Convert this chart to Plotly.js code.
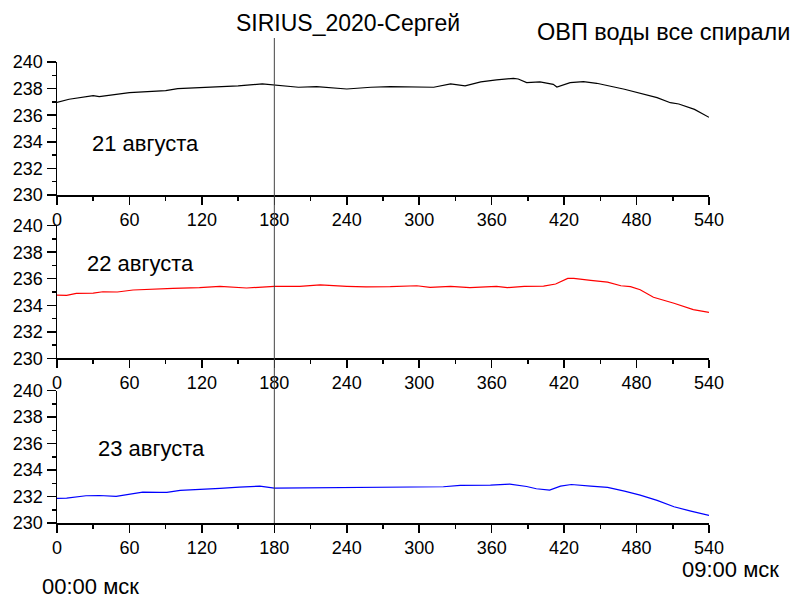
<!DOCTYPE html>
<html>
<head>
<meta charset="utf-8">
<script src="https://cdn.plot.ly/plotly-3.0.1.min.js"></script>
<style>html,body{margin:0;padding:0;background:#fff;}#chart{width:791px;height:601px;}</style>
</head>
<body>
<div id="chart"></div>
<script>
// ---- data (minutes from 00:00 msk, ORP values) ----
var xTicks = [0, 60, 120, 180, 240, 300, 360, 420, 480, 540];
var yTicks = [230, 232, 234, 236, 238, 240];
var markerMinute = 180;

var t21 = [0,10,30,35,60,90,100,120,150,170,180,200,215,240,260,276,312,326,338,351,364,378,382,389,400,411,414,425,436,447,470,486,497,508,515,528,540];
var v21 = [236.97,237.2,237.47,237.4,237.7,237.85,238.0,238.07,238.2,238.35,238.25,238.1,238.15,237.97,238.1,238.15,238.1,238.35,238.2,238.5,238.65,238.77,238.72,238.45,238.5,238.32,238.12,238.45,238.52,238.4,237.95,237.6,237.32,236.94,236.84,236.44,235.84];

var t22 = [0,8,16,30,38,50,63,77,96,118,135,157,180,201,218,240,256,276,298,309,326,342,364,373,387,403,413,423,428,442,456,467,475,483,494,511,527,540];
var v22 = [234.77,234.75,234.9,234.92,235.02,235.0,235.15,235.22,235.28,235.33,235.43,235.3,235.43,235.43,235.53,235.43,235.38,235.4,235.47,235.35,235.43,235.33,235.43,235.33,235.43,235.45,235.6,236.03,236.03,235.88,235.75,235.47,235.4,235.17,234.6,234.15,233.67,233.47];

var t23 = [0,8,24,35,49,63,71,85,91,102,118,135,151,168,180,201,229,256,284,303,320,334,359,375,389,397,408,417,426,442,456,470,483,497,511,525,540];
var v23 = [231.86,231.88,232.06,232.08,232.01,232.19,232.34,232.31,232.31,232.46,232.51,232.61,232.71,232.79,232.64,232.66,232.68,232.66,232.71,232.76,232.74,232.84,232.86,232.94,232.76,232.59,232.49,232.79,232.91,232.79,232.69,232.41,232.11,231.71,231.23,230.9,230.57];

var dayLabels = ["21 августа", "22 августа", "23 августа"];
var titleText = "SIRIUS_2020-Сергей";
var subtitleText = "ОВП воды все спирали";
var startLabel = "00:00 мск";
var endLabel = "09:00 мск";

// ---- layout helpers ----
var W = 791, H = 601, ML = 57, MR = 82, MT = 62, MB = 78;
var PW = W - ML - MR, PH = H - MT - MB;
function px(x) { return (x - ML) / PW; }
function py(y) { return (H - MB - y) / PH; }

var FONT = "Liberation Sans, Arial, sans-serif";

function xAxis(anchor) {
  return {
    anchor: anchor, domain: [0, 1], range: [0, 540],
    tickmode: 'array', tickvals: xTicks, ticktext: xTicks.map(String),
    ticks: 'outside', ticklen: 8, tickwidth: 1.5, tickcolor: '#000',
    showline: true, linewidth: 1.5, linecolor: '#000',
    showgrid: false, zeroline: false,
    tickfont: {family: FONT, size: 18, color: '#000'},
    minor: {tick0: 0, dtick: 30, ticks: 'outside', ticklen: 4, tickwidth: 1.5, tickcolor: '#000', showgrid: false},
    fixedrange: true
  };
}
function yAxis(anchor, dom) {
  return {
    anchor: anchor, domain: dom, range: [230, 240],
    tickmode: 'array', tickvals: yTicks, ticktext: yTicks.map(String),
    ticks: 'outside', ticklen: 9, tickwidth: 1.5, tickcolor: '#000',
    showline: true, linewidth: 1.5, linecolor: '#000',
    showgrid: false, zeroline: false,
    tickfont: {family: FONT, size: 18, color: '#000'},
    minor: {tick0: 230, dtick: 1, ticks: 'outside', ticklen: 4, tickwidth: 1.5, tickcolor: '#000', showgrid: false},
    fixedrange: true
  };
}

var traces = [
  {x: t21, y: v21, xaxis: 'x', yaxis: 'y', type: 'scatter', mode: 'lines', line: {color: '#000000', width: 1.2}},
  {x: t22, y: v22, xaxis: 'x2', yaxis: 'y2', type: 'scatter', mode: 'lines', line: {color: '#ff0000', width: 1.2}},
  {x: t23, y: v23, xaxis: 'x3', yaxis: 'y3', type: 'scatter', mode: 'lines', line: {color: '#0000ff', width: 1.2}}
];

function ann(text, x, y, size, xanchor) {
  return {text: text, xref: 'paper', yref: 'paper', x: px(x), y: py(y), xanchor: xanchor || 'left', yanchor: 'middle',
          showarrow: false, font: {family: FONT, size: size, color: '#000'}};
}

var layout = {
  width: W, height: H,
  margin: {l: ML, r: MR, t: MT, b: MB},
  paper_bgcolor: '#fff', plot_bgcolor: 'rgba(0,0,0,0)',
  showlegend: false,
  xaxis: xAxis('y'), yaxis: yAxis('x', [py(195), 1]),
  xaxis2: xAxis('y2'), yaxis2: yAxis('x2', [py(358.3), py(225.7)]),
  xaxis3: xAxis('y3'), yaxis3: yAxis('x3', [0, py(390.7)]),
  shapes: [{type: 'line', xref: 'x', yref: 'paper', x0: markerMinute, x1: markerMinute, y0: 0, y1: py(38),
            line: {color: '#444', width: 1}}],
  annotations: [
    ann(titleText, 234, 23, 23),
    ann(subtitleText, 535, 32, 23.5),
    ann(dayLabels[0], 90, 144, 22),
    ann(dayLabels[1], 85, 263, 22),
    ann(dayLabels[2], 96, 448, 22),
    ann(startLabel, 40, 586, 22),
    ann(endLabel, 680, 569, 22)
  ]
};

Plotly.newPlot('chart', traces, layout, {displayModeBar: false, staticPlot: true});
</script>
</body>
</html>
